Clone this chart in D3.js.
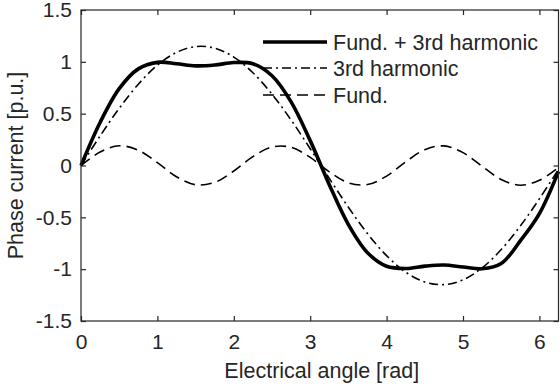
<!DOCTYPE html>
<html><head><meta charset="utf-8">
<script src="https://cdn.jsdelivr.net/npm/d3@7"></script>
<style>body{margin:0;background:#fff}svg{display:block}text{font-family:"Liberation Sans",Arial,Helvetica,sans-serif;fill:#262626}</style>
</head><body>
<svg id="c" width="560" height="386"></svg>
<script>
const angle = [0,0.25,0.5,0.75,1,1.25,1.5,1.75,2,2.25,2.5,2.75,3,3.25,3.5,3.75,4,4.25,4.5,4.75,5,5.25,5.5,5.75,6,6.25];
const sumWave = [0,0.415,0.741,0.932,0.995,0.982,0.961,0.969,0.993,0.981,0.866,0.614,0.240,-0.185,-0.570,-0.841,-0.972,-0.994,-0.971,-0.960,-0.979,-0.996,-0.946,-0.727,-0.464,-0.057];
const thirdWave = [0,0.285,0.551,0.784,0.968,1.091,1.147,1.132,1.046,0.895,0.688,0.439,0.162,-0.124,-0.403,-0.657,-0.870,-1.029,-1.124,-1.149,-1.103,-0.988,-0.811,-0.584,-0.321,-0.038];
const fundWave = [0,0.130,0.190,0.148,0.027,-0.109,-0.186,-0.163,-0.053,0.086,0.178,0.175,0.078,-0.061,-0.167,-0.184,-0.102,0.035,0.153,0.189,0.124,-0.008,-0.135,-0.190,-0.143,-0.019];
const xTicks = [0,1,2,3,4,5,6];
const yTicks = [-1.5,-1,-0.5,0,0.5,1,1.5];
const seriesNames = ["Fund. + 3rd harmonic","3rd harmonic","Fund."];

const svg = d3.select("#c");
const L=81,R=558.5,T=10,B=321;
const x = d3.scaleLinear().domain([0,6.25]).range([L,R]);
const y = d3.scaleLinear().domain([-1.5,1.5]).range([B,T]);
const ax="#262626";

const styles = [
  {w:3.6,dash:null},
  {w:1.6,dash:"9,4,2,4"},
  {w:1.6,dash:"11,6"}
];
const data=[sumWave,thirdWave,fundWave];
const line = d3.line().x((d,i)=>x(angle[i])).y(d=>y(d)).curve(d3.curveCatmullRom.alpha(0.5));
const g = svg.append("g");
[2,1,0].forEach(k=>{
  g.append("path").attr("d",line(data[k])).attr("fill","none").attr("stroke","#000")
   .attr("stroke-width",styles[k].w).attr("stroke-dasharray",styles[k].dash).attr("stroke-linejoin","round");
});

// axes
const fs=21;
const xa = d3.axisBottom(x).tickValues(xTicks).tickSize(-5).tickPadding(13).tickFormat(d3.format("d"));
const ya = d3.axisLeft(y).tickValues(yTicks).tickSize(-5).tickPadding(9).tickFormat(d=>String(d));
const gx=svg.append("g").attr("transform",`translate(0,${B})`).call(xa);
const gy=svg.append("g").attr("transform",`translate(${L},0)`).call(ya);
const gx2=svg.append("g").attr("transform",`translate(0,${T})`).call(d3.axisTop(x).tickValues(xTicks).tickSize(-5).tickFormat(""));
const gy2=svg.append("g").attr("transform",`translate(${R},0)`).call(d3.axisRight(y).tickValues(yTicks).tickSize(-5).tickFormat(""));
[gx,gy,gx2,gy2].forEach(a=>{
  a.selectAll("path.domain").attr("stroke",ax).attr("stroke-width",1.2).attr("d",null);
  a.selectAll(".tick line").attr("stroke",ax).attr("stroke-width",1.2);
  a.selectAll("text").attr("font-size",fs).attr("fill",ax).style("font-family","'Liberation Sans',Arial,sans-serif");
});
svg.append("rect").attr("x",L).attr("y",T).attr("width",R-L).attr("height",B-T).attr("fill","none").attr("stroke",ax).attr("stroke-width",1.2);

svg.append("text").attr("x",(L+R)/2+2).attr("y",378).attr("text-anchor","middle").attr("font-size",21.5).text("Electrical angle [rad]");
svg.append("text").attr("transform",`translate(23,${(T+B)/2}) rotate(-90)`).attr("text-anchor","middle").attr("font-size",21.5).text("Phase current [p.u.]");

// legend
const lg=svg.append("g");
const rows=[42,68,95];
seriesNames.forEach((n,k)=>{
  lg.append("line").attr("x1",263).attr("x2",327).attr("y1",rows[k]).attr("y2",rows[k]).attr("stroke","#000")
    .attr("stroke-width",styles[k].w).attr("stroke-dasharray",styles[k].dash);
  lg.append("text").attr("x",333).attr("y",rows[k]+7.5).attr("font-size",21.5).attr("fill","#000").text(n);
});
</script>
</body></html>
